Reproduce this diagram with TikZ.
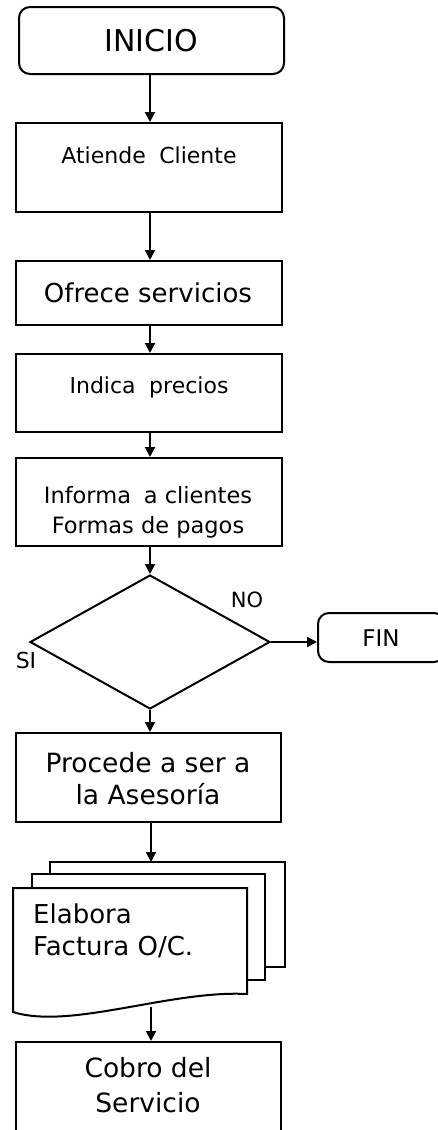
\documentclass[tikz,border=0pt]{standalone}
\usepackage{fontspec}
\setmainfont{DejaVu Sans}
\usetikzlibrary{arrows.meta,shapes.geometric}
\newcommand{\fs}[2]{\fontsize{#1}{#2}\selectfont}
\tikzset{
  x=1pt,y=-1pt,
  boxnode/.style={draw,rectangle,inner sep=0pt,line width=2pt},
  termnode/.style={boxnode,rounded corners=11pt},
  txt/.style={inner sep=0pt,align=center},
  conn/.style={-{Triangle[length=10pt,width=10pt]},line width=2pt},
  docpage/.style={draw,fill=white,line width=2pt},
}
\begin{document}
\begin{tikzpicture}
\useasboundingbox (0,0) rectangle (438,1130);
% boxes
\node[termnode,minimum width=265pt,minimum height=67pt] (inicio) at (151.5,40.5) {};
\node[boxnode,minimum width=266pt,minimum height=89pt] (atiende) at (149,167.5) {};
\node[boxnode,minimum width=266pt,minimum height=64pt] (ofrece) at (149,293) {};
\node[boxnode,minimum width=266pt,minimum height=78pt] (indica) at (149,393) {};
\node[boxnode,minimum width=266pt,minimum height=88pt] (informa) at (149,502) {};
\node[draw,diamond,inner sep=0pt,line width=2pt,minimum width=240pt,minimum height=134pt] (dec) at (150,642) {};
\node[termnode,minimum width=127pt,minimum height=49pt] (fin) at (381.5,637.5) {};
\node[boxnode,minimum width=265pt,minimum height=89pt] (procede) at (148.5,777.5) {};
\node[boxnode,minimum width=265pt,minimum height=94pt] (cobro) at (148.5,1089) {};
% multi-document
\draw[docpage] (50,862) rectangle (285,967);
\draw[docpage] (32,874) rectangle (265,980);
\draw[docpage] (13,888) -- (247,888) -- (247,994)
   .. controls (170,990) and (70,1030) .. (13,1012) -- cycle;
\coordinate (docb) at (151,1007);
\coordinate (doct) at (151,862);
% texts
\node[txt,font=\fs{30}{30}] (t0) at (151,41) {INICIO};
\node[txt,font=\fs{22}{26}] (t1) at (149,155) {Atiende\hspace{0.3em} Cliente};
\node[txt,font=\fs{26}{30}] (t2) at (148,293) {Ofrece servicios};
\node[txt,font=\fs{22}{26}] (t3) at (149,387) {Indica\hspace{0.3em} precios};
\node[txt,font=\fs{22.5}{30}] (t4) at (148,512) {Informa\hspace{0.25em} a clientes\\Formas de pagos};
\node[txt,font=\fs{21}{26}] (tno) at (247,600) {NO};
\node[txt,font=\fs{22}{26}] (tsi) at (26,660) {SI};
\node[txt,font=\fs{23}{26}] (tfin) at (381,638) {FIN};
\node[txt,font=\fs{26.5}{32}] (t5) at (148,779) {Procede a ser a\\la Asesoría};
\node[txt,anchor=west,align=left,font=\fs{26}{32}] (t6) at (33,931) {Elabora\\Factura O/C.};
\node[txt,font=\fs{26.5}{35}] (t7) at (148,1085.5) {Cobro del\\Servicio};
% connectors
\draw[conn] (inicio.south -| 150,0) -- (atiende.north -| 150,0);
\draw[conn] (atiende.south -| 150,0) -- (ofrece.north -| 150,0);
\draw[conn] (ofrece.south -| 150,0) -- (indica.north -| 150,0);
\draw[conn] (indica.south -| 150,0) -- (informa.north -| 150,0);
\draw[conn] (informa.south -| 150,0) -- (dec.north);
\draw[conn] (dec.east) -- (dec.east -| fin.west);
\draw[conn] (dec.south) -- (procede.north -| dec.south);
\draw[conn] (procede.south -| doct) -- (doct);
\draw[conn] (docb) -- (cobro.north -| docb);
\end{tikzpicture}
\end{document}
